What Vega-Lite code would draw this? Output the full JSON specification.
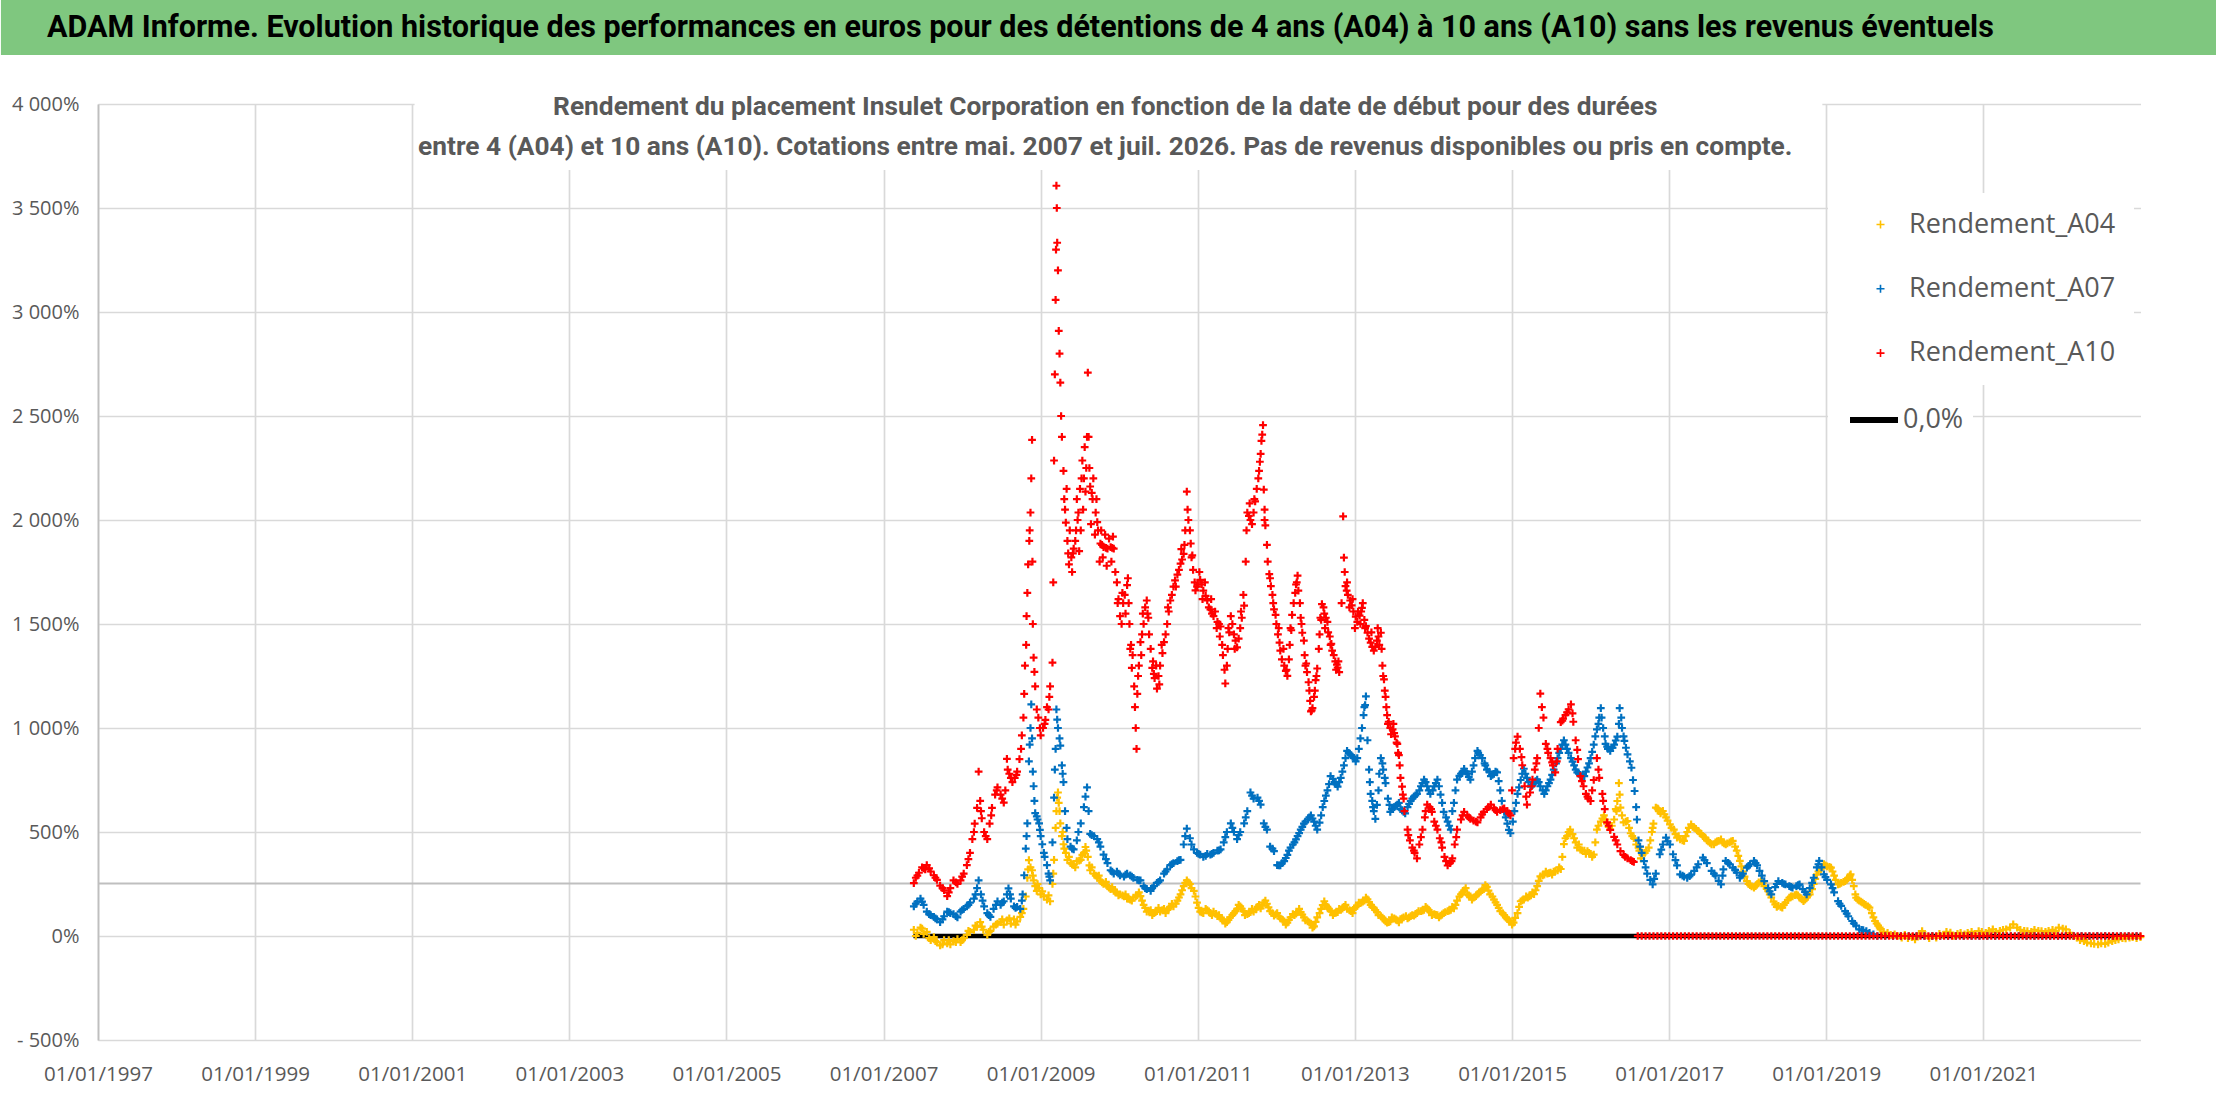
{
  "$schema": "https://vega.github.io/schema/vega-lite/v6.json",
  "background": "white",
  "padding": {"left": 0, "top": 0, "right": 0, "bottom": 12},
  "columns": 1,
  "align": "none",
  "spacing": 38,
  "datasets": {
    "a04": [
      {"t":2007.385,"v":30},{"t":2007.43,"v":15},{"t":2007.47,"v":40},{"t":2007.51,"v":10},{"t":2007.55,"v":20},{"t":2007.6,"v":-20},{"t":2007.64,"v":-5},{"t":2007.68,"v":-30},{"t":2007.72,"v":-45},{"t":2007.77,"v":-20},{"t":2007.81,"v":-35},{"t":2007.85,"v":-40},{"t":2007.89,"v":-25},{"t":2007.94,"v":-15},{"t":2007.98,"v":-30},{"t":2008.02,"v":-10},{"t":2008.06,"v":5},{"t":2008.1,"v":20},{"t":2008.15,"v":30},{"t":2008.19,"v":45},{"t":2008.23,"v":67},{"t":2008.27,"v":30},{"t":2008.32,"v":5},{"t":2008.36,"v":25},{"t":2008.4,"v":45},{"t":2008.45,"v":60},{"t":2008.49,"v":67},{"t":2008.53,"v":55},{"t":2008.57,"v":75},{"t":2008.62,"v":60},{"t":2008.66,"v":80},{"t":2008.7,"v":70},{"t":2008.74,"v":92},{"t":2008.78,"v":130},{"t":2008.81,"v":190},{"t":2008.83,"v":280},{"t":2008.85,"v":365},{"t":2008.87,"v":330},{"t":2008.89,"v":316},{"t":2008.91,"v":267},{"t":2008.93,"v":240},{"t":2008.95,"v":217},{"t":2008.98,"v":230},{"t":2009,"v":200},{"t":2009.04,"v":190},{"t":2009.08,"v":175},{"t":2009.12,"v":167},{"t":2009.15,"v":250},{"t":2009.17,"v":366},{"t":2009.19,"v":520},{"t":2009.21,"v":665},{"t":2009.22,"v":690},{"t":2009.24,"v":600},{"t":2009.25,"v":541},{"t":2009.27,"v":480},{"t":2009.29,"v":441},{"t":2009.32,"v":400},{"t":2009.34,"v":366},{"t":2009.38,"v":350},{"t":2009.42,"v":341},{"t":2009.46,"v":360},{"t":2009.51,"v":366},{"t":2009.55,"v":400},{"t":2009.57,"v":428},{"t":2009.6,"v":380},{"t":2009.63,"v":316},{"t":2009.68,"v":300},{"t":2009.72,"v":280},{"t":2009.76,"v":267},{"t":2009.8,"v":250},{"t":2009.85,"v":240},{"t":2009.89,"v":225},{"t":2009.93,"v":217},{"t":2009.97,"v":210},{"t":2010.01,"v":200},{"t":2010.06,"v":190},{"t":2010.1,"v":180},{"t":2010.14,"v":175},{"t":2010.18,"v":185},{"t":2010.23,"v":195},{"t":2010.27,"v":192},{"t":2010.31,"v":150},{"t":2010.35,"v":117},{"t":2010.4,"v":125},{"t":2010.44,"v":110},{"t":2010.48,"v":120},{"t":2010.52,"v":117},{"t":2010.57,"v":130},{"t":2010.61,"v":125},{"t":2010.65,"v":140},{"t":2010.69,"v":142},{"t":2010.74,"v":170},{"t":2010.78,"v":200},{"t":2010.82,"v":240},{"t":2010.86,"v":267},{"t":2010.9,"v":250},{"t":2010.95,"v":217},{"t":2010.99,"v":160},{"t":2011.03,"v":117},{"t":2011.07,"v":110},{"t":2011.12,"v":125},{"t":2011.16,"v":110},{"t":2011.2,"v":117},{"t":2011.25,"v":95},{"t":2011.29,"v":85},{"t":2011.33,"v":75},{"t":2011.37,"v":67},{"t":2011.41,"v":90},{"t":2011.46,"v":110},{"t":2011.5,"v":130},{"t":2011.54,"v":142},{"t":2011.58,"v":120},{"t":2011.63,"v":105},{"t":2011.67,"v":115},{"t":2011.71,"v":117},{"t":2011.76,"v":140},{"t":2011.8,"v":133},{"t":2011.84,"v":160},{"t":2011.88,"v":155},{"t":2011.92,"v":120},{"t":2011.97,"v":98},{"t":2012.01,"v":110},{"t":2012.05,"v":85},{"t":2012.1,"v":70},{"t":2012.14,"v":64},{"t":2012.18,"v":90},{"t":2012.23,"v":100},{"t":2012.27,"v":115},{"t":2012.31,"v":115},{"t":2012.35,"v":90},{"t":2012.4,"v":70},{"t":2012.44,"v":60},{"t":2012.48,"v":46},{"t":2012.52,"v":90},{"t":2012.57,"v":130},{"t":2012.61,"v":167},{"t":2012.65,"v":140},{"t":2012.69,"v":120},{"t":2012.74,"v":110},{"t":2012.78,"v":115},{"t":2012.82,"v":125},{"t":2012.86,"v":140},{"t":2012.9,"v":130},{"t":2012.95,"v":120},{"t":2012.99,"v":133},{"t":2013.03,"v":145},{"t":2013.08,"v":160},{"t":2013.12,"v":170},{"t":2013.16,"v":176},{"t":2013.2,"v":150},{"t":2013.24,"v":135},{"t":2013.28,"v":115},{"t":2013.33,"v":95},{"t":2013.37,"v":80},{"t":2013.41,"v":64},{"t":2013.45,"v":70},{"t":2013.5,"v":85},{"t":2013.54,"v":75},{"t":2013.58,"v":81},{"t":2013.62,"v":90},{"t":2013.67,"v":85},{"t":2013.71,"v":95},{"t":2013.75,"v":98},{"t":2013.79,"v":110},{"t":2013.84,"v":120},{"t":2013.88,"v":125},{"t":2013.92,"v":133},{"t":2013.96,"v":115},{"t":2014.01,"v":105},{"t":2014.05,"v":100},{"t":2014.09,"v":98},{"t":2014.13,"v":110},{"t":2014.18,"v":120},{"t":2014.22,"v":125},{"t":2014.26,"v":133},{"t":2014.3,"v":170},{"t":2014.35,"v":200},{"t":2014.39,"v":219},{"t":2014.43,"v":200},{"t":2014.47,"v":190},{"t":2014.51,"v":184},{"t":2014.56,"v":200},{"t":2014.6,"v":215},{"t":2014.64,"v":225},{"t":2014.68,"v":236},{"t":2014.72,"v":200},{"t":2014.77,"v":175},{"t":2014.81,"v":150},{"t":2014.85,"v":120},{"t":2014.9,"v":100},{"t":2014.94,"v":81},{"t":2014.98,"v":70},{"t":2015.02,"v":64},{"t":2015.07,"v":110},{"t":2015.11,"v":167},{"t":2015.15,"v":175},{"t":2015.2,"v":185},{"t":2015.24,"v":195},{"t":2015.28,"v":201},{"t":2015.32,"v":240},{"t":2015.36,"v":287},{"t":2015.41,"v":295},{"t":2015.45,"v":300},{"t":2015.49,"v":305},{"t":2015.53,"v":310},{"t":2015.58,"v":315},{"t":2015.62,"v":322},{"t":2015.66,"v":442},{"t":2015.7,"v":480},{"t":2015.74,"v":511},{"t":2015.79,"v":470},{"t":2015.83,"v":425},{"t":2015.87,"v":415},{"t":2015.92,"v":410},{"t":2015.96,"v":408},{"t":2016,"v":395},{"t":2016.04,"v":391},{"t":2016.08,"v":511},{"t":2016.13,"v":550},{"t":2016.17,"v":580},{"t":2016.21,"v":540},{"t":2016.25,"v":511},{"t":2016.3,"v":560},{"t":2016.34,"v":649},{"t":2016.36,"v":735},{"t":2016.38,"v":617},{"t":2016.42,"v":546},{"t":2016.47,"v":553},{"t":2016.51,"v":494},{"t":2016.55,"v":470},{"t":2016.61,"v":425},{"t":2016.64,"v":373},{"t":2016.69,"v":400},{"t":2016.74,"v":425},{"t":2016.76,"v":460},{"t":2016.8,"v":540},{"t":2016.83,"v":617},{"t":2016.85,"v":614},{"t":2016.89,"v":590},{"t":2016.92,"v":601},{"t":2016.96,"v":570},{"t":2017.01,"v":537},{"t":2017.06,"v":511},{"t":2017.1,"v":473},{"t":2017.14,"v":465},{"t":2017.19,"v":457},{"t":2017.23,"v":500},{"t":2017.28,"v":537},{"t":2017.32,"v":520},{"t":2017.37,"v":505},{"t":2017.41,"v":490},{"t":2017.46,"v":473},{"t":2017.5,"v":455},{"t":2017.54,"v":441},{"t":2017.59,"v":450},{"t":2017.63,"v":457},{"t":2017.68,"v":450},{"t":2017.72,"v":441},{"t":2017.77,"v":450},{"t":2017.81,"v":457},{"t":2017.86,"v":410},{"t":2017.9,"v":361},{"t":2017.94,"v":310},{"t":2017.99,"v":264},{"t":2018.03,"v":245},{"t":2018.08,"v":232},{"t":2018.12,"v":250},{"t":2018.17,"v":264},{"t":2018.21,"v":240},{"t":2018.26,"v":216},{"t":2018.3,"v":185},{"t":2018.35,"v":152},{"t":2018.39,"v":145},{"t":2018.44,"v":136},{"t":2018.48,"v":160},{"t":2018.53,"v":184},{"t":2018.57,"v":190},{"t":2018.62,"v":200},{"t":2018.66,"v":185},{"t":2018.71,"v":168},{"t":2018.75,"v":185},{"t":2018.79,"v":200},{"t":2018.84,"v":250},{"t":2018.88,"v":296},{"t":2018.93,"v":320},{"t":2018.97,"v":345},{"t":2019.01,"v":335},{"t":2019.06,"v":329},{"t":2019.1,"v":290},{"t":2019.15,"v":248},{"t":2019.19,"v":255},{"t":2019.24,"v":264},{"t":2019.28,"v":280},{"t":2019.31,"v":296},{"t":2019.35,"v":240},{"t":2019.38,"v":184},{"t":2019.42,"v":170},{"t":2019.46,"v":160},{"t":2019.5,"v":150},{"t":2019.55,"v":136},{"t":2019.58,"v":110},{"t":2019.62,"v":72},{"t":2019.66,"v":50},{"t":2019.69,"v":32},{"t":2019.73,"v":20},{"t":2019.78,"v":15},{"t":2019.82,"v":5},{"t":2019.87,"v":8},{"t":2019.91,"v":0},{"t":2019.96,"v":-8},{"t":2020,"v":5},{"t":2020.04,"v":-10},{"t":2020.09,"v":-5},{"t":2020.13,"v":-16},{"t":2020.18,"v":10},{"t":2020.22,"v":24},{"t":2020.26,"v":5},{"t":2020.31,"v":-10},{"t":2020.35,"v":0},{"t":2020.4,"v":-8},{"t":2020.44,"v":10},{"t":2020.49,"v":5},{"t":2020.53,"v":20},{"t":2020.58,"v":16},{"t":2020.62,"v":0},{"t":2020.67,"v":10},{"t":2020.71,"v":15},{"t":2020.76,"v":8},{"t":2020.8,"v":15},{"t":2020.85,"v":20},{"t":2020.89,"v":10},{"t":2020.94,"v":24},{"t":2020.98,"v":20},{"t":2021.03,"v":15},{"t":2021.07,"v":25},{"t":2021.12,"v":32},{"t":2021.16,"v":20},{"t":2021.21,"v":25},{"t":2021.25,"v":30},{"t":2021.29,"v":32},{"t":2021.34,"v":40},{"t":2021.38,"v":56},{"t":2021.43,"v":40},{"t":2021.47,"v":30},{"t":2021.52,"v":25},{"t":2021.56,"v":24},{"t":2021.61,"v":20},{"t":2021.65,"v":30},{"t":2021.7,"v":25},{"t":2021.74,"v":24},{"t":2021.79,"v":20},{"t":2021.83,"v":25},{"t":2021.88,"v":30},{"t":2021.92,"v":24},{"t":2021.96,"v":40},{"t":2022.01,"v":35},{"t":2022.05,"v":32},{"t":2022.1,"v":15},{"t":2022.14,"v":0},{"t":2022.19,"v":-8},{"t":2022.23,"v":-20},{"t":2022.28,"v":-25},{"t":2022.32,"v":-32},{"t":2022.37,"v":-35},{"t":2022.41,"v":-38},{"t":2022.46,"v":-40},{"t":2022.5,"v":-35},{"t":2022.55,"v":-38},{"t":2022.59,"v":-32},{"t":2022.64,"v":-25},{"t":2022.68,"v":-20},{"t":2022.72,"v":-16},{"t":2022.77,"v":-10},{"t":2022.81,"v":-12},{"t":2022.86,"v":-8},{"t":2022.9,"v":-5},{"t":2022.95,"v":-10},{"t":2023,"v":-5},
      {"t":2007.41,"v":0},{"t":2007.49,"v":35},{"t":2007.58,"v":-10},{"t":2007.66,"v":-25},{"t":2007.75,"v":-40},{"t":2007.83,"v":-20},{"t":2007.92,"v":-30},{"t":2008,"v":-20},{"t":2008.08,"v":25},{"t":2008.17,"v":50},{"t":2008.25,"v":45},{"t":2008.34,"v":20},{"t":2008.43,"v":55},{"t":2008.51,"v":80},{"t":2008.6,"v":85},{"t":2008.68,"v":55},{"t":2008.76,"v":110},{"t":2008.84,"v":320},{"t":2008.9,"v":290},{"t":2008.96,"v":250},{"t":2009.02,"v":215},{"t":2009.1,"v":195},{"t":2009.16,"v":300},{"t":2009.2,"v":600},{"t":2009.23,"v":640},{"t":2009.28,"v":500},{"t":2009.36,"v":380},{"t":2009.44,"v":330},{"t":2009.53,"v":390},{"t":2009.58,"v":410},{"t":2009.65,"v":330},{"t":2009.74,"v":290},{"t":2009.83,"v":260},{"t":2009.91,"v":235},{"t":2009.99,"v":195},{"t":2010.08,"v":200},{"t":2010.16,"v":170},{"t":2010.25,"v":210},{"t":2010.33,"v":135},{"t":2010.42,"v":100},{"t":2010.5,"v":135},{"t":2010.59,"v":110},{"t":2010.67,"v":155},{"t":2010.76,"v":185},{"t":2010.84,"v":255},{"t":2010.92,"v":230},{"t":2011.01,"v":135},{"t":2011.1,"v":130},{"t":2011.18,"v":100},{"t":2011.27,"v":100},{"t":2011.35,"v":60},{"t":2011.44,"v":100},{"t":2011.52,"v":150},{"t":2011.6,"v":100},{"t":2011.69,"v":130},{"t":2011.78,"v":150},{"t":2011.86,"v":170},{"t":2011.95,"v":110},{"t":2012.03,"v":95},{"t":2012.12,"v":55},{"t":2012.21,"v":105},{"t":2012.29,"v":130},{"t":2012.37,"v":75},{"t":2012.46,"v":40},{"t":2012.55,"v":110},{"t":2012.63,"v":150},{"t":2012.72,"v":100},{"t":2012.8,"v":130},{"t":2012.88,"v":150},{"t":2012.97,"v":110},{"t":2013.05,"v":160},{"t":2013.14,"v":185},{"t":2013.22,"v":140},{"t":2013.3,"v":100},{"t":2013.39,"v":70},{"t":2013.47,"v":90},{"t":2013.56,"v":65},{"t":2013.65,"v":95},{"t":2013.73,"v":100},{"t":2013.81,"v":120},{"t":2013.9,"v":140},{"t":2013.98,"v":100},{"t":2014.07,"v":90},{"t":2014.15,"v":115},{"t":2014.24,"v":140},{"t":2014.33,"v":190},{"t":2014.41,"v":230},{"t":2014.49,"v":175},{"t":2014.58,"v":210},{"t":2014.66,"v":245},{"t":2014.75,"v":190},{"t":2014.83,"v":135},{"t":2014.92,"v":90},{"t":2015,"v":55},{"t":2015.09,"v":140},{"t":2015.18,"v":190},{"t":2015.26,"v":210},{"t":2015.34,"v":265},{"t":2015.43,"v":310},{"t":2015.51,"v":295},{"t":2015.6,"v":330},{"t":2015.68,"v":470},{"t":2015.77,"v":490},{"t":2015.85,"v":440},{"t":2015.94,"v":395},{"t":2016.02,"v":380},{"t":2016.1,"v":530},{"t":2016.19,"v":560},{"t":2016.27,"v":530},{"t":2016.32,"v":610},{"t":2016.4,"v":580},{"t":2016.49,"v":520},{"t":2016.58,"v":440},{"t":2016.66,"v":390},{"t":2016.78,"v":500},{"t":2016.87,"v":600},{"t":2016.94,"v":585},{"t":2017.03,"v":520},{"t":2017.12,"v":480},{"t":2017.21,"v":480},{"t":2017.3,"v":525},{"t":2017.39,"v":495},{"t":2017.48,"v":460},{"t":2017.57,"v":440},{"t":2017.66,"v":465},{"t":2017.74,"v":445},{"t":2017.84,"v":430},{"t":2017.92,"v":335},{"t":2018.01,"v":250},{"t":2018.1,"v":240},{"t":2018.19,"v":255},{"t":2018.28,"v":200},{"t":2018.37,"v":140},{"t":2018.46,"v":150},{"t":2018.55,"v":190},{"t":2018.64,"v":195},{"t":2018.73,"v":175},{"t":2018.82,"v":225},{"t":2018.9,"v":310},{"t":2018.99,"v":340},{"t":2019.08,"v":310},{"t":2019.17,"v":250},{"t":2019.26,"v":270},{"t":2019.33,"v":270},{"t":2019.4,"v":175},{"t":2019.48,"v":155},{"t":2019.6,"v":90},{"t":2019.68,"v":40},
      {"t":2009.3,"v":420},{"t":2009.4,"v":345},{"t":2009.49,"v":362},{"t":2009.62,"v":340},{"t":2009.7,"v":290},{"t":2009.78,"v":258},{"t":2009.87,"v":232},{"t":2009.95,"v":213},{"t":2010.04,"v":195},{"t":2010.12,"v":178},{"t":2010.21,"v":190},{"t":2010.29,"v":170},{"t":2010.38,"v":120},{"t":2010.46,"v":115},{"t":2010.55,"v":125},{"t":2010.63,"v":132},{"t":2010.72,"v":156},{"t":2010.8,"v":220},{"t":2010.88,"v":258},{"t":2010.97,"v":190},{"t":2011.05,"v":113},{"t":2011.14,"v":118},{"t":2011.23,"v":106},{"t":2011.31,"v":80},{"t":2011.39,"v":78},{"t":2011.48,"v":120},{"t":2011.56,"v":131},{"t":2011.65,"v":110},{"t":2011.74,"v":128},{"t":2011.82,"v":146},{"t":2011.9,"v":138},{"t":2011.99,"v":104},{"t":2012.08,"v":78},{"t":2012.16,"v":77},{"t":2012.25,"v":108},{"t":2012.33,"v":103},{"t":2012.42,"v":65},{"t":2012.5,"v":68},{"t":2012.59,"v":148},{"t":2012.67,"v":130},{"t":2012.76,"v":112},{"t":2012.84,"v":132},{"t":2012.93,"v":125},{"t":2013.01,"v":139},{"t":2013.1,"v":165},{"t":2013.18,"v":163},{"t":2013.26,"v":125},{"t":2013.35,"v":88},{"t":2013.43,"v":67},{"t":2013.52,"v":80},{"t":2013.6,"v":85},{"t":2013.69,"v":90},{"t":2013.77,"v":104},{"t":2013.86,"v":122},{"t":2013.94,"v":124},{"t":2014.03,"v":102},{"t":2014.11,"v":104},{"t":2014.2,"v":122},{"t":2014.28,"v":150},{"t":2014.37,"v":210},{"t":2014.45,"v":195},{"t":2014.54,"v":192},{"t":2014.62,"v":220},{"t":2014.7,"v":218},{"t":2014.79,"v":162},{"t":2014.88,"v":110},{"t":2014.96,"v":75},{"t":2015.04,"v":87},{"t":2015.13,"v":171},{"t":2015.22,"v":190},{"t":2015.3,"v":220},{"t":2015.39,"v":291},{"t":2015.47,"v":302},{"t":2015.55,"v":312},
      {"t":2015.64,"v":380},{"t":2015.72,"v":500},{"t":2015.81,"v":450},{"t":2015.89,"v":412},{"t":2015.98,"v":400},{"t":2016.06,"v":450},{"t":2016.15,"v":565},{"t":2016.23,"v":525},{"t":2016.33,"v":600},{"t":2016.37,"v":680},{"t":2016.45,"v":550},{"t":2016.53,"v":480},{"t":2016.62,"v":410},{"t":2016.71,"v":410},{"t":2016.79,"v":520},{"t":2016.86,"v":610},{"t":2016.98,"v":555},{"t":2017.08,"v":490},{"t":2017.17,"v":460},{"t":2017.25,"v":520},{"t":2017.34,"v":515},{"t":2017.43,"v":480},{"t":2017.52,"v":448},{"t":2017.61,"v":455},{"t":2017.7,"v":445},{"t":2017.79,"v":455},{"t":2017.88,"v":385},{"t":2017.96,"v":285},{"t":2018.05,"v":238},{"t":2018.14,"v":258},{"t":2018.24,"v":228},{"t":2018.33,"v":165},{"t":2018.42,"v":140},{"t":2018.51,"v":172},{"t":2018.6,"v":197},{"t":2018.69,"v":176},{"t":2018.77,"v":195},{"t":2018.86,"v":275},{"t":2018.95,"v":333},{"t":2019.04,"v":332},{"t":2019.12,"v":270},{"t":2019.22,"v":260},{"t":2019.3,"v":290},{"t":2019.37,"v":200},{"t":2019.44,"v":165},{"t":2019.53,"v":142},{"t":2019.64,"v":60}
    ],
    "a07": [
      {"t":2007.385,"v":142},{"t":2007.43,"v":165},{"t":2007.47,"v":180},{"t":2007.51,"v":150},{"t":2007.55,"v":117},{"t":2007.6,"v":100},{"t":2007.64,"v":92},{"t":2007.68,"v":80},{"t":2007.72,"v":67},{"t":2007.77,"v":95},{"t":2007.81,"v":117},{"t":2007.85,"v":110},{"t":2007.89,"v":105},{"t":2007.94,"v":90},{"t":2007.98,"v":117},{"t":2008.02,"v":130},{"t":2008.06,"v":142},{"t":2008.1,"v":160},{"t":2008.15,"v":180},{"t":2008.19,"v":230},{"t":2008.21,"v":267},{"t":2008.24,"v":200},{"t":2008.28,"v":142},{"t":2008.32,"v":110},{"t":2008.36,"v":92},{"t":2008.4,"v":130},{"t":2008.45,"v":167},{"t":2008.49,"v":150},{"t":2008.53,"v":167},{"t":2008.57,"v":200},{"t":2008.59,"v":229},{"t":2008.62,"v":180},{"t":2008.66,"v":142},{"t":2008.7,"v":140},{"t":2008.74,"v":130},{"t":2008.77,"v":200},{"t":2008.79,"v":292},{"t":2008.81,"v":420},{"t":2008.83,"v":541},{"t":2008.85,"v":840},{"t":2008.87,"v":1000},{"t":2008.88,"v":1114},{"t":2008.89,"v":950},{"t":2008.9,"v":790},{"t":2008.92,"v":650},{"t":2008.93,"v":591},{"t":2008.96,"v":560},{"t":2008.98,"v":541},{"t":2009,"v":480},{"t":2009.02,"v":441},{"t":2009.05,"v":380},{"t":2009.08,"v":341},{"t":2009.1,"v":300},{"t":2009.12,"v":267},{"t":2009.15,"v":450},{"t":2009.17,"v":665},{"t":2009.19,"v":900},{"t":2009.2,"v":1089},{"t":2009.22,"v":1000},{"t":2009.25,"v":915},{"t":2009.27,"v":820},{"t":2009.29,"v":740},{"t":2009.31,"v":600},{"t":2009.34,"v":466},{"t":2009.38,"v":430},{"t":2009.42,"v":416},{"t":2009.46,"v":460},{"t":2009.51,"v":541},{"t":2009.55,"v":620},{"t":2009.59,"v":715},{"t":2009.61,"v":600},{"t":2009.63,"v":491},{"t":2009.68,"v":480},{"t":2009.72,"v":466},{"t":2009.76,"v":430},{"t":2009.8,"v":391},{"t":2009.85,"v":350},{"t":2009.89,"v":316},{"t":2009.93,"v":300},{"t":2009.97,"v":310},{"t":2010.01,"v":292},{"t":2010.06,"v":285},{"t":2010.1,"v":300},{"t":2010.14,"v":292},{"t":2010.18,"v":280},{"t":2010.23,"v":270},{"t":2010.27,"v":267},{"t":2010.31,"v":240},{"t":2010.35,"v":225},{"t":2010.4,"v":217},{"t":2010.44,"v":240},{"t":2010.48,"v":255},{"t":2010.52,"v":267},{"t":2010.57,"v":300},{"t":2010.61,"v":320},{"t":2010.65,"v":341},{"t":2010.69,"v":350},{"t":2010.74,"v":360},{"t":2010.78,"v":366},{"t":2010.82,"v":440},{"t":2010.86,"v":516},{"t":2010.9,"v":470},{"t":2010.95,"v":416},{"t":2010.99,"v":400},{"t":2011.03,"v":391},{"t":2011.07,"v":380},{"t":2011.12,"v":395},{"t":2011.16,"v":391},{"t":2011.2,"v":400},{"t":2011.25,"v":410},{"t":2011.29,"v":416},{"t":2011.33,"v":450},{"t":2011.37,"v":500},{"t":2011.42,"v":541},{"t":2011.46,"v":500},{"t":2011.5,"v":466},{"t":2011.54,"v":500},{"t":2011.59,"v":541},{"t":2011.63,"v":600},{"t":2011.67,"v":690},{"t":2011.71,"v":660},{"t":2011.76,"v":665},{"t":2011.8,"v":632},{"t":2011.84,"v":541},{"t":2011.88,"v":511},{"t":2011.92,"v":430},{"t":2011.97,"v":408},{"t":2012.01,"v":341},{"t":2012.05,"v":339},{"t":2012.1,"v":360},{"t":2012.14,"v":390},{"t":2012.18,"v":425},{"t":2012.23,"v":450},{"t":2012.27,"v":480},{"t":2012.31,"v":511},{"t":2012.35,"v":540},{"t":2012.4,"v":560},{"t":2012.44,"v":580},{"t":2012.48,"v":550},{"t":2012.52,"v":511},{"t":2012.57,"v":580},{"t":2012.61,"v":649},{"t":2012.65,"v":700},{"t":2012.69,"v":769},{"t":2012.74,"v":740},{"t":2012.78,"v":718},{"t":2012.82,"v":760},{"t":2012.86,"v":820},{"t":2012.9,"v":890},{"t":2012.95,"v":870},{"t":2012.99,"v":855},{"t":2013.03,"v":855},{"t":2013.07,"v":950},{"t":2013.11,"v":1062},{"t":2013.14,"v":1152},{"t":2013.16,"v":941},{"t":2013.18,"v":800},{"t":2013.2,"v":683},{"t":2013.23,"v":620},{"t":2013.26,"v":563},{"t":2013.3,"v":700},{"t":2013.33,"v":855},{"t":2013.36,"v":800},{"t":2013.39,"v":735},{"t":2013.42,"v":660},{"t":2013.45,"v":597},{"t":2013.5,"v":620},{"t":2013.54,"v":632},{"t":2013.58,"v":610},{"t":2013.62,"v":597},{"t":2013.67,"v":620},{"t":2013.71,"v":649},{"t":2013.75,"v":670},{"t":2013.79,"v":683},{"t":2013.84,"v":720},{"t":2013.88,"v":752},{"t":2013.92,"v":720},{"t":2013.96,"v":683},{"t":2014.01,"v":720},{"t":2014.05,"v":752},{"t":2014.09,"v":680},{"t":2014.13,"v":597},{"t":2014.18,"v":550},{"t":2014.22,"v":511},{"t":2014.26,"v":640},{"t":2014.3,"v":752},{"t":2014.35,"v":780},{"t":2014.39,"v":804},{"t":2014.43,"v":780},{"t":2014.47,"v":752},{"t":2014.51,"v":820},{"t":2014.56,"v":890},{"t":2014.59,"v":870},{"t":2014.62,"v":855},{"t":2014.68,"v":800},{"t":2014.73,"v":769},{"t":2014.77,"v":780},{"t":2014.81,"v":787},{"t":2014.85,"v":700},{"t":2014.9,"v":597},{"t":2014.94,"v":540},{"t":2014.98,"v":494},{"t":2015.03,"v":600},{"t":2015.07,"v":683},{"t":2015.11,"v":750},{"t":2015.15,"v":804},{"t":2015.19,"v":760},{"t":2015.24,"v":718},{"t":2015.28,"v":735},{"t":2015.32,"v":752},{"t":2015.36,"v":720},{"t":2015.41,"v":683},{"t":2015.45,"v":720},{"t":2015.49,"v":752},{"t":2015.53,"v":800},{"t":2015.58,"v":855},{"t":2015.62,"v":900},{"t":2015.66,"v":941},{"t":2015.7,"v":900},{"t":2015.75,"v":855},{"t":2015.79,"v":820},{"t":2015.83,"v":787},{"t":2015.87,"v":775},{"t":2015.92,"v":769},{"t":2015.96,"v":810},{"t":2016,"v":855},{"t":2016.04,"v":920},{"t":2016.08,"v":993},{"t":2016.11,"v":1050},{"t":2016.13,"v":1096},{"t":2016.16,"v":1000},{"t":2016.19,"v":924},{"t":2016.22,"v":900},{"t":2016.25,"v":890},{"t":2016.3,"v":920},{"t":2016.34,"v":959},{"t":2016.37,"v":1096},{"t":2016.4,"v":1000},{"t":2016.43,"v":938},{"t":2016.47,"v":873},{"t":2016.52,"v":809},{"t":2016.56,"v":697},{"t":2016.59,"v":560},{"t":2016.61,"v":460},{"t":2016.65,"v":400},{"t":2016.68,"v":360},{"t":2016.72,"v":300},{"t":2016.76,"v":270},{"t":2016.79,"v":248},{"t":2016.83,"v":300},{"t":2016.88,"v":393},{"t":2016.92,"v":440},{"t":2016.96,"v":473},{"t":2017.01,"v":440},{"t":2017.05,"v":393},{"t":2017.1,"v":340},{"t":2017.14,"v":296},{"t":2017.19,"v":285},{"t":2017.23,"v":280},{"t":2017.28,"v":295},{"t":2017.32,"v":313},{"t":2017.37,"v":345},{"t":2017.43,"v":377},{"t":2017.48,"v":350},{"t":2017.54,"v":313},{"t":2017.59,"v":290},{"t":2017.63,"v":265},{"t":2017.66,"v":248},{"t":2017.69,"v":320},{"t":2017.72,"v":361},{"t":2017.77,"v":345},{"t":2017.81,"v":329},{"t":2017.86,"v":305},{"t":2017.9,"v":280},{"t":2017.94,"v":300},{"t":2017.99,"v":329},{"t":2018.03,"v":345},{"t":2018.08,"v":361},{"t":2018.12,"v":340},{"t":2018.15,"v":313},{"t":2018.21,"v":264},{"t":2018.26,"v":230},{"t":2018.3,"v":200},{"t":2018.35,"v":235},{"t":2018.39,"v":264},{"t":2018.44,"v":255},{"t":2018.48,"v":248},{"t":2018.53,"v":240},{"t":2018.57,"v":232},{"t":2018.62,"v":240},{"t":2018.66,"v":248},{"t":2018.7,"v":225},{"t":2018.75,"v":200},{"t":2018.79,"v":230},{"t":2018.84,"v":280},{"t":2018.88,"v":330},{"t":2018.91,"v":361},{"t":2018.94,"v":330},{"t":2018.97,"v":296},{"t":2019.01,"v":270},{"t":2019.06,"v":248},{"t":2019.1,"v":210},{"t":2019.15,"v":168},{"t":2019.19,"v":145},{"t":2019.24,"v":120},{"t":2019.28,"v":95},{"t":2019.33,"v":72},{"t":2019.38,"v":50},{"t":2019.42,"v":32},{"t":2019.47,"v":28},{"t":2019.51,"v":24},{"t":2019.55,"v":15},{"t":2019.6,"v":8},
      {"t":2019.65,"v":0},{"t":2019.75,"v":0},{"t":2019.85,"v":0},{"t":2019.95,"v":0},{"t":2020.05,"v":0},{"t":2020.15,"v":0},{"t":2020.25,"v":0},{"t":2020.35,"v":0},{"t":2020.45,"v":0},{"t":2020.55,"v":0},{"t":2020.65,"v":0},{"t":2020.75,"v":0},{"t":2020.85,"v":0},{"t":2020.95,"v":0},{"t":2021.05,"v":0},{"t":2021.15,"v":0},{"t":2021.25,"v":0},{"t":2021.35,"v":0},{"t":2021.45,"v":0},{"t":2021.55,"v":0},{"t":2021.65,"v":0},{"t":2021.75,"v":0},{"t":2021.85,"v":0},{"t":2021.95,"v":0},{"t":2022.05,"v":0},{"t":2022.15,"v":0},{"t":2022.25,"v":0},{"t":2022.35,"v":0},{"t":2022.45,"v":0},{"t":2022.55,"v":0},{"t":2022.65,"v":0},{"t":2022.75,"v":0},{"t":2022.85,"v":0},{"t":2022.95,"v":0},
      {"t":2007.41,"v":155},{"t":2007.49,"v":165},{"t":2007.58,"v":105},{"t":2007.66,"v":85},{"t":2007.75,"v":80},{"t":2007.83,"v":115},{"t":2007.92,"v":95},{"t":2008,"v":125},{"t":2008.08,"v":150},{"t":2008.17,"v":200},{"t":2008.26,"v":170},{"t":2008.34,"v":100},{"t":2008.43,"v":150},{"t":2008.51,"v":160},{"t":2008.61,"v":200},{"t":2008.68,"v":135},{"t":2008.76,"v":170},{"t":2008.82,"v":480},{"t":2008.86,"v":920},{"t":2008.91,"v":720},{"t":2008.95,"v":575},{"t":2008.99,"v":510},{"t":2009.04,"v":400},{"t":2009.11,"v":285},{"t":2009.18,"v":800},{"t":2009.21,"v":1040},{"t":2009.24,"v":950},{"t":2009.28,"v":780},{"t":2009.33,"v":520},{"t":2009.4,"v":420},{"t":2009.48,"v":500},{"t":2009.57,"v":670},{"t":2009.65,"v":485},{"t":2009.74,"v":450},{"t":2009.83,"v":370},{"t":2009.91,"v":310},{"t":2009.99,"v":300},{"t":2010.08,"v":295},{"t":2010.16,"v":285},{"t":2010.25,"v":268},{"t":2010.33,"v":230},{"t":2010.42,"v":230},{"t":2010.5,"v":260},{"t":2010.59,"v":310},{"t":2010.67,"v":345},{"t":2010.76,"v":365},{"t":2010.84,"v":480},{"t":2010.92,"v":440},{"t":2011.01,"v":395},{"t":2011.1,"v":385},{"t":2011.18,"v":395},{"t":2011.27,"v":412},{"t":2011.35,"v":475},{"t":2011.44,"v":520},{"t":2011.52,"v":485},{"t":2011.61,"v":570},{"t":2011.69,"v":675},{"t":2011.78,"v":650},{"t":2011.86,"v":525},{"t":2011.95,"v":420},{"t":2012.03,"v":340},{"t":2012.12,"v":375},{"t":2012.21,"v":440},{"t":2012.29,"v":495},{"t":2012.37,"v":550},{"t":2012.46,"v":565},{"t":2012.55,"v":545},{"t":2012.63,"v":675},{"t":2012.72,"v":755},{"t":2012.8,"v":740},{"t":2012.88,"v":855},{"t":2012.97,"v":862},{"t":2013.05,"v":900},{"t":2013.12,"v":1100},{"t":2013.22,"v":650},{"t":2013.28,"v":630},{"t":2013.35,"v":830},{"t":2013.44,"v":630},{"t":2013.52,"v":625},{"t":2013.6,"v":605},{"t":2013.69,"v":635},{"t":2013.77,"v":676},{"t":2013.86,"v":735},{"t":2013.94,"v":700},{"t":2014.03,"v":735},{"t":2014.11,"v":640},{"t":2014.2,"v":530},{"t":2014.28,"v":700},{"t":2014.37,"v":790},{"t":2014.45,"v":765},{"t":2014.53,"v":855},{"t":2014.65,"v":830},{"t":2014.75,"v":775},{"t":2014.83,"v":745},{"t":2014.92,"v":570},{"t":2015.01,"v":550},{"t":2015.09,"v":715},{"t":2015.17,"v":780},{"t":2015.26,"v":725},{"t":2015.34,"v":740},{"t":2015.43,"v":700},{"t":2015.51,"v":775},{"t":2015.6,"v":880},{"t":2015.68,"v":920},{"t":2015.77,"v":838},{"t":2015.85,"v":780},{"t":2015.94,"v":790},{"t":2016.02,"v":885},{"t":2016.1,"v":1020},{"t":2016.18,"v":960},{"t":2016.27,"v":905},{"t":2016.36,"v":1020},{"t":2016.45,"v":905},{"t":2016.54,"v":750},{"t":2016.63,"v":430},{"t":2016.7,"v":330},{"t":2016.81,"v":275},{"t":2016.9,"v":415},{"t":2016.98,"v":455},{"t":2017.08,"v":365},{"t":2017.17,"v":290},{"t":2017.26,"v":288},{"t":2017.35,"v":330},{"t":2017.45,"v":365},{"t":2017.57,"v":300},{"t":2017.68,"v":290},{"t":2017.75,"v":352},{"t":2017.84,"v":318},{"t":2017.92,"v":290},{"t":2018.01,"v":337},{"t":2018.1,"v":350},{"t":2018.18,"v":290},{"t":2018.28,"v":215},{"t":2018.37,"v":250},{"t":2018.46,"v":250},{"t":2018.55,"v":236},{"t":2018.64,"v":244},{"t":2018.73,"v":212},{"t":2018.82,"v":255},{"t":2018.9,"v":345},{"t":2018.99,"v":283},{"t":2019.08,"v":230},{"t":2019.17,"v":155},{"t":2019.26,"v":108},{"t":2019.35,"v":60},{"t":2019.45,"v":30},
      {"t":2012.07,"v":350},{"t":2012.16,"v":410},{"t":2012.25,"v":465},{"t":2012.33,"v":525},{"t":2012.42,"v":570},{"t":2012.5,"v":530},{"t":2012.59,"v":620},{"t":2012.67,"v":730},{"t":2012.76,"v":730},{"t":2012.84,"v":790},{"t":2012.92,"v":880},{"t":2013.01,"v":840},{"t":2013.09,"v":1000},{"t":2013.13,"v":1110},{"t":2013.19,"v":740},{"t":2013.24,"v":600},{"t":2013.31,"v":780},{"t":2013.38,"v":760},{"t":2013.47,"v":610},{"t":2013.56,"v":640},{"t":2013.64,"v":590},{"t":2013.73,"v":660},{"t":2013.82,"v":700},{"t":2013.9,"v":740},{"t":2013.99,"v":700},{"t":2014.07,"v":720},{"t":2014.16,"v":570},{"t":2014.24,"v":600},{"t":2014.33,"v":770},{"t":2014.41,"v":790},{"t":2014.49,"v":790},{"t":2014.57,"v":880},{"t":2014.66,"v":820},{"t":2014.71,"v":790},{"t":2014.79,"v":790},{"t":2014.87,"v":650},{"t":2014.96,"v":510},{"t":2015.05,"v":640},{"t":2015.13,"v":780},{"t":2015.21,"v":740},{"t":2015.3,"v":745},{"t":2015.39,"v":700},{"t":2015.47,"v":735},{"t":2015.56,"v":830},{"t":2015.64,"v":920},{"t":2015.72,"v":880},{"t":2015.81,"v":800},{"t":2015.9,"v":770},{"t":2015.98,"v":830},{"t":2016.06,"v":960},{"t":2016.14,"v":1050},{"t":2016.21,"v":910},{"t":2016.28,"v":905},{"t":2016.32,"v":940},{"t":2016.39,"v":1050},{"t":2016.42,"v":960},{"t":2016.5,"v":840},{"t":2016.58,"v":620}
    ],
    "a10": [
      {"t":2007.385,"v":254},{"t":2007.41,"v":280},{"t":2007.45,"v":304},{"t":2007.49,"v":330},{"t":2007.53,"v":320},{"t":2007.55,"v":341},{"t":2007.6,"v":310},{"t":2007.64,"v":292},{"t":2007.68,"v":270},{"t":2007.72,"v":242},{"t":2007.77,"v":220},{"t":2007.81,"v":192},{"t":2007.85,"v":230},{"t":2007.89,"v":267},{"t":2007.94,"v":250},{"t":2007.98,"v":267},{"t":2008.02,"v":300},{"t":2008.06,"v":341},{"t":2008.1,"v":400},{"t":2008.13,"v":466},{"t":2008.16,"v":540},{"t":2008.19,"v":616},{"t":2008.21,"v":790},{"t":2008.23,"v":650},{"t":2008.25,"v":566},{"t":2008.28,"v":500},{"t":2008.32,"v":466},{"t":2008.35,"v":540},{"t":2008.38,"v":616},{"t":2008.42,"v":680},{"t":2008.45,"v":715},{"t":2008.49,"v":680},{"t":2008.53,"v":641},{"t":2008.55,"v":700},{"t":2008.57,"v":852},{"t":2008.6,"v":780},{"t":2008.64,"v":740},{"t":2008.67,"v":760},{"t":2008.7,"v":790},{"t":2008.73,"v":850},{"t":2008.76,"v":965},{"t":2008.78,"v":1050},{"t":2008.79,"v":1164},{"t":2008.8,"v":1300},{"t":2008.82,"v":1538},{"t":2008.83,"v":1650},{"t":2008.84,"v":1787},{"t":2008.855,"v":1900},{"t":2008.87,"v":2036},{"t":2008.88,"v":2200},{"t":2008.89,"v":2385},{"t":2008.895,"v":1800},{"t":2008.9,"v":1500},{"t":2008.91,"v":1338},{"t":2008.93,"v":1200},{"t":2008.95,"v":1089},{"t":2008.97,"v":1050},{"t":2009,"v":965},{"t":2009.03,"v":1000},{"t":2009.06,"v":1039},{"t":2009.08,"v":1100},{"t":2009.1,"v":1089},{"t":2009.12,"v":1200},{"t":2009.15,"v":1314},{"t":2009.16,"v":1700},{"t":2009.17,"v":2286},{"t":2009.18,"v":2700},{"t":2009.19,"v":3058},{"t":2009.195,"v":3300},{"t":2009.2,"v":3607},{"t":2009.205,"v":3500},{"t":2009.21,"v":3333},{"t":2009.22,"v":3200},{"t":2009.23,"v":2909},{"t":2009.24,"v":2800},{"t":2009.25,"v":2660},{"t":2009.27,"v":2400},{"t":2009.29,"v":2236},{"t":2009.3,"v":2100},{"t":2009.32,"v":1987},{"t":2009.34,"v":1900},{"t":2009.36,"v":1787},{"t":2009.39,"v":1820},{"t":2009.42,"v":1862},{"t":2009.45,"v":1950},{"t":2009.48,"v":2036},{"t":2009.5,"v":2150},{"t":2009.53,"v":2286},{"t":2009.55,"v":2200},{"t":2009.57,"v":2136},{"t":2009.59,"v":2400},{"t":2009.6,"v":2709},{"t":2009.61,"v":2400},{"t":2009.63,"v":2161},{"t":2009.66,"v":2100},{"t":2009.7,"v":2036},{"t":2009.73,"v":1950},{"t":2009.76,"v":1887},{"t":2009.8,"v":1870},{"t":2009.85,"v":1862},{"t":2009.89,"v":1870},{"t":2009.93,"v":1862},{"t":2009.97,"v":1700},{"t":2010.01,"v":1538},{"t":2010.05,"v":1600},{"t":2010.1,"v":1687},{"t":2010.13,"v":1500},{"t":2010.16,"v":1289},{"t":2010.19,"v":1200},{"t":2010.21,"v":1000},{"t":2010.22,"v":900},{"t":2010.23,"v":1164},{"t":2010.25,"v":1300},{"t":2010.27,"v":1413},{"t":2010.31,"v":1500},{"t":2010.35,"v":1613},{"t":2010.38,"v":1450},{"t":2010.42,"v":1289},{"t":2010.45,"v":1240},{"t":2010.48,"v":1189},{"t":2010.52,"v":1300},{"t":2010.57,"v":1413},{"t":2010.61,"v":1500},{"t":2010.65,"v":1613},{"t":2010.69,"v":1680},{"t":2010.74,"v":1737},{"t":2010.78,"v":1790},{"t":2010.82,"v":1837},{"t":2010.84,"v":1950},{"t":2010.86,"v":2136},{"t":2010.88,"v":2000},{"t":2010.91,"v":1887},{"t":2010.94,"v":1760},{"t":2010.97,"v":1662},{"t":2011,"v":1690},{"t":2011.03,"v":1712},{"t":2011.07,"v":1660},{"t":2011.12,"v":1613},{"t":2011.16,"v":1570},{"t":2011.2,"v":1538},{"t":2011.25,"v":1510},{"t":2011.29,"v":1488},{"t":2011.32,"v":1350},{"t":2011.35,"v":1214},{"t":2011.38,"v":1380},{"t":2011.42,"v":1538},{"t":2011.46,"v":1450},{"t":2011.5,"v":1388},{"t":2011.54,"v":1480},{"t":2011.59,"v":1588},{"t":2011.61,"v":1800},{"t":2011.63,"v":2036},{"t":2011.67,"v":2000},{"t":2011.71,"v":2036},{"t":2011.75,"v":2150},{"t":2011.78,"v":2236},{"t":2011.8,"v":2318},{"t":2011.82,"v":2410},{"t":2011.83,"v":2456},{"t":2011.84,"v":2146},{"t":2011.86,"v":1974},{"t":2011.89,"v":1800},{"t":2011.93,"v":1682},{"t":2011.96,"v":1600},{"t":2011.99,"v":1544},{"t":2012.02,"v":1450},{"t":2012.05,"v":1372},{"t":2012.1,"v":1300},{"t":2012.14,"v":1251},{"t":2012.17,"v":1400},{"t":2012.2,"v":1544},{"t":2012.24,"v":1650},{"t":2012.27,"v":1733},{"t":2012.3,"v":1600},{"t":2012.33,"v":1458},{"t":2012.36,"v":1350},{"t":2012.39,"v":1269},{"t":2012.42,"v":1180},{"t":2012.44,"v":1080},{"t":2012.46,"v":1096},{"t":2012.49,"v":1180},{"t":2012.52,"v":1286},{"t":2012.55,"v":1450},{"t":2012.58,"v":1596},{"t":2012.61,"v":1550},{"t":2012.65,"v":1510},{"t":2012.68,"v":1440},{"t":2012.71,"v":1372},{"t":2012.75,"v":1320},{"t":2012.78,"v":1290},{"t":2012.8,"v":1269},{"t":2012.83,"v":1600},{"t":2012.85,"v":2017},{"t":2012.86,"v":1819},{"t":2012.88,"v":1682},{"t":2012.91,"v":1640},{"t":2012.94,"v":1613},{"t":2012.98,"v":1560},{"t":2013.03,"v":1510},{"t":2013.06,"v":1540},{"t":2013.09,"v":1578},{"t":2013.12,"v":1520},{"t":2013.16,"v":1458},{"t":2013.2,"v":1410},{"t":2013.24,"v":1372},{"t":2013.28,"v":1420},{"t":2013.33,"v":1458},{"t":2013.35,"v":1300},{"t":2013.37,"v":1234},{"t":2013.39,"v":1150},{"t":2013.41,"v":1062},{"t":2013.45,"v":1000},{"t":2013.48,"v":993},{"t":2013.51,"v":960},{"t":2013.54,"v":924},{"t":2013.57,"v":820},{"t":2013.6,"v":718},{"t":2013.63,"v":600},{"t":2013.67,"v":511},{"t":2013.7,"v":460},{"t":2013.73,"v":425},{"t":2013.76,"v":400},{"t":2013.79,"v":373},{"t":2013.82,"v":440},{"t":2013.86,"v":511},{"t":2013.89,"v":570},{"t":2013.92,"v":632},{"t":2013.95,"v":620},{"t":2013.98,"v":597},{"t":2014.01,"v":550},{"t":2014.05,"v":511},{"t":2014.08,"v":470},{"t":2014.11,"v":425},{"t":2014.14,"v":380},{"t":2014.18,"v":339},{"t":2014.21,"v":350},{"t":2014.24,"v":373},{"t":2014.27,"v":440},{"t":2014.3,"v":511},{"t":2014.35,"v":560},{"t":2014.39,"v":597},{"t":2014.43,"v":580},{"t":2014.47,"v":563},{"t":2014.51,"v":555},{"t":2014.56,"v":546},{"t":2014.6,"v":570},{"t":2014.64,"v":597},{"t":2014.68,"v":610},{"t":2014.73,"v":632},{"t":2014.77,"v":615},{"t":2014.81,"v":597},{"t":2014.85,"v":605},{"t":2014.9,"v":614},{"t":2014.94,"v":600},{"t":2014.98,"v":580},{"t":2015,"v":700},{"t":2015.02,"v":855},{"t":2015.05,"v":930},{"t":2015.07,"v":959},{"t":2015.1,"v":900},{"t":2015.13,"v":821},{"t":2015.16,"v":720},{"t":2015.19,"v":632},{"t":2015.23,"v":690},{"t":2015.26,"v":752},{"t":2015.29,"v":800},{"t":2015.32,"v":855},{"t":2015.34,"v":1000},{"t":2015.36,"v":1165},{"t":2015.4,"v":1050},{"t":2015.43,"v":924},{"t":2015.46,"v":880},{"t":2015.49,"v":855},{"t":2015.52,"v":820},{"t":2015.55,"v":787},{"t":2015.58,"v":900},{"t":2015.62,"v":1028},{"t":2015.65,"v":1045},{"t":2015.68,"v":1062},{"t":2015.72,"v":1090},{"t":2015.75,"v":1114},{"t":2015.78,"v":1030},{"t":2015.81,"v":941},{"t":2015.84,"v":850},{"t":2015.87,"v":769},{"t":2015.91,"v":720},{"t":2015.94,"v":683},{"t":2015.97,"v":660},{"t":2016,"v":649},{"t":2016.04,"v":750},{"t":2016.08,"v":855},{"t":2016.11,"v":760},{"t":2016.15,"v":683},{"t":2016.18,"v":610},{"t":2016.21,"v":546},{"t":2016.25,"v":510},{"t":2016.3,"v":477},{"t":2016.34,"v":440},{"t":2016.38,"v":408},{"t":2016.42,"v":390},{"t":2016.47,"v":373},{"t":2016.51,"v":365},{"t":2016.55,"v":356},
      {"t":2007.43,"v":290},{"t":2007.51,"v":325},{"t":2007.58,"v":325},{"t":2007.66,"v":280},{"t":2007.75,"v":230},{"t":2007.83,"v":210},{"t":2007.92,"v":258},{"t":2008,"v":285},{"t":2008.08,"v":370},{"t":2008.15,"v":500},{"t":2008.24,"v":600},{"t":2008.3,"v":480},{"t":2008.37,"v":580},{"t":2008.44,"v":700},{"t":2008.51,"v":660},{"t":2008.58,"v":800},{"t":2008.62,"v":760},{"t":2008.69,"v":775},{"t":2008.75,"v":900},{"t":2008.815,"v":1400},{"t":2008.86,"v":1950},{"t":2008.92,"v":1270},{"t":2008.99,"v":1000},{"t":2009.05,"v":1020},{"t":2009.11,"v":1150},{"t":2009.26,"v":2500},{"t":2009.31,"v":2050},{"t":2009.35,"v":1840},{"t":2009.41,"v":1840},{"t":2009.47,"v":2000},{"t":2009.52,"v":2200},{"t":2009.58,"v":2250},{"t":2009.65,"v":2130},{"t":2009.72,"v":1990},{"t":2009.78,"v":1880},{"t":2009.83,"v":1866},{"t":2009.91,"v":1866},{"t":2009.99,"v":1620},{"t":2010.07,"v":1640},{"t":2010.15,"v":1400},{"t":2010.29,"v":1450},{"t":2010.37,"v":1530},{"t":2010.44,"v":1260},{"t":2010.5,"v":1250},{"t":2010.55,"v":1360},{"t":2010.63,"v":1560},{"t":2010.71,"v":1710},{"t":2010.8,"v":1810},{"t":2010.92,"v":1820},{"t":2010.99,"v":1680},{"t":2011.05,"v":1690},{"t":2011.1,"v":1635},{"t":2011.18,"v":1550},{"t":2011.27,"v":1500},{"t":2011.4,"v":1460},{"t":2011.48,"v":1420},{"t":2011.56,"v":1530},{"t":2011.65,"v":2020},{"t":2011.73,"v":2090},{"t":2011.85,"v":2050},{"t":2011.91,"v":1740},{"t":2011.97,"v":1570},{"t":2012.04,"v":1410},{"t":2012.12,"v":1275},{"t":2012.19,"v":1470},{"t":2012.25,"v":1690},{"t":2012.31,"v":1530},{"t":2012.38,"v":1310},{"t":2012.45,"v":1085},{"t":2012.5,"v":1230},{"t":2012.57,"v":1520},{"t":2012.63,"v":1530},{"t":2012.7,"v":1405},{"t":2012.77,"v":1305},{"t":2012.895,"v":1660},{"t":2012.96,"v":1590},{"t":2013.01,"v":1535},{"t":2013.08,"v":1560},{"t":2013.14,"v":1490},{"t":2013.22,"v":1390},{"t":2013.3,"v":1440},{"t":2013.43,"v":1030},{"t":2013.5,"v":975},{"t":2013.56,"v":870},{"t":2013.62,"v":660},{"t":2013.68,"v":485},{"t":2013.75,"v":410},{"t":2013.84,"v":475},{"t":2013.9,"v":600},{"t":2013.97,"v":610},{"t":2014.03,"v":530},{"t":2014.1,"v":450},{"t":2014.16,"v":360},{"t":2014.23,"v":360},{"t":2014.29,"v":475},{"t":2014.37,"v":580},{"t":2014.45,"v":570},{"t":2014.54,"v":550},{"t":2014.62,"v":585},{"t":2014.7,"v":620},{"t":2014.79,"v":605},{"t":2014.88,"v":610},{"t":2014.96,"v":590},{"t":2015.04,"v":900},{"t":2015.12,"v":860},{"t":2015.18,"v":670},{"t":2015.25,"v":720},{"t":2015.31,"v":830},{"t":2015.38,"v":1100},{"t":2015.45,"v":900},{"t":2015.51,"v":835},{"t":2015.57,"v":840},{"t":2015.64,"v":1035},{"t":2015.7,"v":1075},{"t":2015.77,"v":1070},{"t":2015.83,"v":895},{"t":2015.89,"v":745},{"t":2015.96,"v":670},{"t":2016.02,"v":700},{"t":2016.1,"v":800},{"t":2016.16,"v":650},{"t":2016.23,"v":530},{"t":2016.32,"v":460},{"t":2016.44,"v":380},{"t":2016.53,"v":360},
      {"t":2009.33,"v":2150},{"t":2009.37,"v":1950},{"t":2009.4,"v":1750},{"t":2009.44,"v":1900},{"t":2009.46,"v":2100},{"t":2009.49,"v":1850},{"t":2009.51,"v":1950},{"t":2009.54,"v":2050},{"t":2009.56,"v":2350},{"t":2009.62,"v":2250},{"t":2009.64,"v":1980},{"t":2009.67,"v":2200},{"t":2009.69,"v":1930},{"t":2009.71,"v":2100},{"t":2009.75,"v":1800},{"t":2009.77,"v":1950},{"t":2009.79,"v":1820},{"t":2009.82,"v":1930},{"t":2009.84,"v":1780},{"t":2009.87,"v":1910},{"t":2009.9,"v":1800},{"t":2009.92,"v":1920},{"t":2009.95,"v":1750},{"t":2009.98,"v":1600},{"t":2010.03,"v":1500},{"t":2010.04,"v":1650},{"t":2010.08,"v":1550},{"t":2010.11,"v":1720},{"t":2010.12,"v":1600},{"t":2010.14,"v":1380},{"t":2010.17,"v":1350},{"t":2010.2,"v":1100},{"t":2010.24,"v":1250},{"t":2010.28,"v":1350},{"t":2010.3,"v":1550},{"t":2010.33,"v":1580},{"t":2010.36,"v":1550},{"t":2010.4,"v":1380},{"t":2010.43,"v":1320},{"t":2010.47,"v":1300},{"t":2010.51,"v":1210},{"t":2010.54,"v":1400},{"t":2010.59,"v":1450},{"t":2010.62,"v":1580},{"t":2010.67,"v":1640},{"t":2010.72,"v":1680},{"t":2010.76,"v":1760},{"t":2010.79,"v":1860},{"t":2010.83,"v":1880},{"t":2010.87,"v":2050},{"t":2010.9,"v":1950},{"t":2010.93,"v":1830},{"t":2010.96,"v":1700},{"t":2011.02,"v":1750},{"t":2011.06,"v":1620},{"t":2011.09,"v":1700},{"t":2011.14,"v":1580},{"t":2011.17,"v":1620},{"t":2011.22,"v":1560},{"t":2011.24,"v":1480},{"t":2011.28,"v":1440},{"t":2011.31,"v":1400},{"t":2011.34,"v":1280},{"t":2011.37,"v":1300},{"t":2011.39,"v":1480},{"t":2011.44,"v":1500},{"t":2011.47,"v":1380},{"t":2011.52,"v":1430},{"t":2011.55,"v":1560},{"t":2011.58,"v":1640},{"t":2011.62,"v":1950},{"t":2011.66,"v":2080},{"t":2011.69,"v":1980},{"t":2011.72,"v":2100},{"t":2011.77,"v":2200},{"t":2011.79,"v":2280},{"t":2011.81,"v":2380},{"t":2011.85,"v":2000},{"t":2011.88,"v":1880},{"t":2011.92,"v":1720},{"t":2011.95,"v":1640},{"t":2012,"v":1500},{"t":2012.03,"v":1480},{"t":2012.07,"v":1330},{"t":2012.09,"v":1380},{"t":2012.13,"v":1280},{"t":2012.16,"v":1330},{"t":2012.18,"v":1480},{"t":2012.22,"v":1600},{"t":2012.26,"v":1700},{"t":2012.28,"v":1660},{"t":2012.32,"v":1500},{"t":2012.35,"v":1420},{"t":2012.37,"v":1300},{"t":2012.41,"v":1220},{"t":2012.43,"v":1130},{"t":2012.48,"v":1150},{"t":2012.51,"v":1250},{"t":2012.54,"v":1380},{"t":2012.56,"v":1530},{"t":2012.6,"v":1580},{"t":2012.62,"v":1480},{"t":2012.66,"v":1460},{"t":2012.69,"v":1400},{"t":2012.73,"v":1350},{"t":2012.76,"v":1280},{"t":2012.79,"v":1320},{"t":2012.87,"v":1750},{"t":2012.9,"v":1700},{"t":2012.93,"v":1580},{"t":2012.97,"v":1620},{"t":2013,"v":1480},{"t":2013.04,"v":1560},{"t":2013.07,"v":1500},{"t":2013.1,"v":1600},{"t":2013.13,"v":1480},{"t":2013.18,"v":1430},{"t":2013.21,"v":1460},{"t":2013.26,"v":1390},{"t":2013.29,"v":1480},{"t":2013.31,"v":1400},{"t":2013.34,"v":1380},{"t":2013.36,"v":1250},{"t":2013.38,"v":1180},{"t":2013.4,"v":1100},{"t":2013.42,"v":1020},{"t":2013.46,"v":970},{"t":2013.49,"v":1020},{"t":2013.53,"v":930},{"t":2013.55,"v":880},{"t":2013.58,"v":760},{"t":2013.61,"v":680},
      {"t":2016.6,"v":0},{"t":2016.65,"v":0},{"t":2016.7,"v":0},{"t":2016.75,"v":0},{"t":2016.8,"v":0},{"t":2016.85,"v":0},{"t":2016.9,"v":0},{"t":2016.95,"v":0},
      {"t":2017,"v":0},{"t":2017.05,"v":0},{"t":2017.1,"v":0},{"t":2017.15,"v":0},{"t":2017.2,"v":0},{"t":2017.25,"v":0},{"t":2017.3,"v":0},{"t":2017.35,"v":0},{"t":2017.4,"v":0},{"t":2017.45,"v":0},{"t":2017.5,"v":0},{"t":2017.55,"v":0},{"t":2017.6,"v":0},{"t":2017.65,"v":0},{"t":2017.7,"v":0},{"t":2017.75,"v":0},{"t":2017.8,"v":0},{"t":2017.85,"v":0},{"t":2017.9,"v":0},{"t":2017.95,"v":0},
      {"t":2018,"v":0},{"t":2018.05,"v":0},{"t":2018.1,"v":0},{"t":2018.15,"v":0},{"t":2018.2,"v":0},{"t":2018.25,"v":0},{"t":2018.3,"v":0},{"t":2018.35,"v":0},{"t":2018.4,"v":0},{"t":2018.45,"v":0},{"t":2018.5,"v":0},{"t":2018.55,"v":0},{"t":2018.6,"v":0},{"t":2018.65,"v":0},{"t":2018.7,"v":0},{"t":2018.75,"v":0},{"t":2018.8,"v":0},{"t":2018.85,"v":0},{"t":2018.9,"v":0},{"t":2018.95,"v":0},
      {"t":2019,"v":0},{"t":2019.05,"v":0},{"t":2019.1,"v":0},{"t":2019.15,"v":0},{"t":2019.2,"v":0},{"t":2019.25,"v":0},{"t":2019.3,"v":0},{"t":2019.35,"v":0},{"t":2019.4,"v":0},{"t":2019.45,"v":0},{"t":2019.5,"v":0},{"t":2019.55,"v":0},{"t":2019.6,"v":0},{"t":2019.65,"v":0},{"t":2019.7,"v":0},{"t":2019.75,"v":0},{"t":2019.8,"v":0},{"t":2019.85,"v":0},{"t":2019.9,"v":0},{"t":2019.95,"v":0},
      {"t":2020,"v":0},{"t":2020.05,"v":0},{"t":2020.1,"v":0},{"t":2020.15,"v":0},{"t":2020.2,"v":0},{"t":2020.25,"v":0},{"t":2020.3,"v":0},{"t":2020.35,"v":0},{"t":2020.4,"v":0},{"t":2020.45,"v":0},{"t":2020.5,"v":0},{"t":2020.55,"v":0},{"t":2020.6,"v":0},{"t":2020.65,"v":0},{"t":2020.7,"v":0},{"t":2020.75,"v":0},{"t":2020.8,"v":0},{"t":2020.85,"v":0},{"t":2020.9,"v":0},{"t":2020.95,"v":0},
      {"t":2021,"v":0},{"t":2021.05,"v":0},{"t":2021.1,"v":0},{"t":2021.15,"v":0},{"t":2021.2,"v":0},{"t":2021.25,"v":0},{"t":2021.3,"v":0},{"t":2021.35,"v":0},{"t":2021.4,"v":0},{"t":2021.45,"v":0},{"t":2021.5,"v":0},{"t":2021.55,"v":0},{"t":2021.6,"v":0},{"t":2021.65,"v":0},{"t":2021.7,"v":0},{"t":2021.75,"v":0},{"t":2021.8,"v":0},{"t":2021.85,"v":0},{"t":2021.9,"v":0},{"t":2021.95,"v":0},
      {"t":2022,"v":0},{"t":2022.05,"v":0},{"t":2022.1,"v":0},{"t":2022.15,"v":0},{"t":2022.2,"v":0},{"t":2022.25,"v":0},{"t":2022.3,"v":0},{"t":2022.35,"v":0},{"t":2022.4,"v":0},{"t":2022.45,"v":0},{"t":2022.5,"v":0},{"t":2022.55,"v":0},{"t":2022.6,"v":0},{"t":2022.65,"v":0},{"t":2022.7,"v":0},{"t":2022.75,"v":0},{"t":2022.8,"v":0},{"t":2022.85,"v":0},{"t":2022.9,"v":0},{"t":2022.95,"v":0},
      {"t":2023,"v":0}
    ],
    "zero": [{"t":2007.38,"v":0},{"t":2023,"v":0}]
  },
  "concat": [
    {
      "width": 2119,
      "height": 55,
      "view": {"stroke": null},
      "layer": [
        {
          "data": {"values": [{}]},
          "mark": {"type": "rect", "color": "#7FC77F"},
          "encoding": {
            "x": {"datum": -0.0458, "type": "quantitative", "scale": {"domain": [0, 1]}, "axis": null},
            "x2": {"datum": 1},
            "y": {"datum": 0, "type": "quantitative", "scale": {"domain": [0, 1]}, "axis": null},
            "y2": {"datum": 1}
          }
        },
        {
          "data": {"values": [{"label": "ADAM Informe. Evolution historique des performances en euros pour des détentions de 4 ans (A04) à 10 ans (A10) sans les revenus éventuels"}]},
          "mark": {"type": "text", "font": "Roboto", "fontSize": 30.5, "fontWeight": "bold", "color": "#000000", "align": "center", "baseline": "middle"},
          "encoding": {
            "text": {"field": "label"},
            "x": {"datum": 0.4353, "type": "quantitative"},
            "y": {"datum": 0.5, "type": "quantitative"}
          }
        }
      ]
    },
    {
      "width": 2042.5,
      "height": 936,
      "view": {"stroke": null},
      "title": {
        "text": [
          "Rendement du placement Insulet Corporation en fonction de la date de début pour des durées",
          "entre 4 (A04) et 10 ans (A10). Cotations entre mai. 2007 et juil. 2026. Pas de revenus disponibles ou pris en compte."
        ],
        "font": "Roboto",
        "fontSize": 26.3,
        "fontWeight": "bold",
        "color": "#595959",
        "lineHeight": 40,
        "anchor": "middle",
        "frame": "group",
        "offset": -66,
        "dx": -14
      },
      "layer": [
        {
          "data": {"values": [{}]},
          "mark": {"type": "rect", "color": "white"},
          "encoding": {
            "x": {"datum": 2001.03, "type": "quantitative"},
            "x2": {"datum": 2018.95},
            "y": {"datum": 4010, "type": "quantitative"},
            "y2": {"datum": 3683}
          }
        },
        {
          "data": {"values": [{}]},
          "mark": {"type": "rule", "color": "#BFBFBF", "strokeWidth": 2},
          "encoding": {
            "x": {"datum": 1997, "type": "quantitative"},
            "x2": {"datum": 2023},
            "y": {"datum": 253, "type": "quantitative"}
          }
        },
        {
          "data": {"name": "zero"},
          "mark": {"type": "line", "strokeWidth": 4.5},
          "encoding": {
            "x": {"field": "t", "type": "quantitative"},
            "y": {"field": "v", "type": "quantitative"},
            "stroke": {
              "datum": "0,0%",
              "type": "nominal",
              "scale": {"domain": ["0,0%"], "range": ["#000000"]},
              "legend": {
                "title": null,
                "orient": "none",
                "legendX": 1730,
                "legendY": 383.2,
                "fillColor": "white",
                "padding": 9.8,
                "symbolType": "stroke",
                "symbolSize": 2304,
                "symbolStrokeWidth": 6,
                "symbolOffset": 9.2,
                "labelOffset": 2,
                "labelLimit": 600,
                "labelFont": "Open Sans",
                "labelFontSize": 27,
                "labelColor": "#595959",
                "labelExpr": "datum.label + '\u00a0\u00a0\u00a0\u00a0\u00a0\u00a0\u00a0\u00a0\u00a0\u00a0\u00a0\u00a0\u00a0\u00a0\u00a0\u00a0\u00a0\u00a0\u00a0\u00a0\u00a0\u00a0\u00a0\u00a0'"
              }
            }
          }
        },
        {
          "data": {"name": "a04"},
          "mark": {"type": "point", "shape": "M-1,0H1M0,-1V1", "filled": false, "size": 60, "strokeWidth": 2.2, "opacity": 1},
          "encoding": {
            "x": {
              "field": "t",
              "type": "quantitative",
              "scale": {"domain": [1997, 2023], "nice": false, "zero": false},
              "axis": {
                "title": null,
                "values": [1997, 1999, 2001, 2003, 2005, 2007, 2009, 2011, 2013, 2015, 2017, 2019, 2021],
                "labelExpr": "'01/01/' + datum.value",
                "grid": true,
                "gridColor": "#D9D9D9",
                "gridWidth": 1.7,
                "ticks": false,
                "domain": false,
                "labelPadding": 24,
                "labelFlush": false,
                "labelOverlap": false,
                "labelFont": "Open Sans",
                "labelFontSize": 20.5,
                "labelColor": "#595959"
              }
            },
            "y": {
              "field": "v",
              "type": "quantitative",
              "scale": {"domain": [-500, 4000], "nice": false, "zero": false},
              "axis": {
                "title": null,
                "values": [-500, 0, 500, 1000, 1500, 2000, 2500, 3000, 3500, 4000],
                "labelExpr": "(datum.value < 0 ? '- ' : '') + replace(format(abs(datum.value), ','), ',', ' ') + '%'",
                "grid": true,
                "gridColor": "#D9D9D9",
                "gridWidth": 1.7,
                "ticks": false,
                "domain": true,
                "domainColor": "#BFBFBF",
                "domainWidth": 1.7,
                "labelPadding": 19,
                "minExtent": 97,
                "labelOverlap": false,
                "labelFont": "Open Sans",
                "labelFontSize": 20,
                "labelColor": "#595959"
              }
            },
            "color": {
              "datum": "Rendement_A04",
              "type": "nominal",
              "scale": {
                "domain": ["Rendement_A04", "Rendement_A07", "Rendement_A10"],
                "range": ["#FFC000", "#0070C0", "#FF0000"]
              },
              "legend": {
                "title": null,
                "orient": "none",
                "legendX": 1730,
                "legendY": 193,
                "fillColor": "white",
                "padding": 18,
                "symbolType": "M-1,0H1M0,-1V1",
                "symbolSize": 64,
                "symbolStrokeWidth": 1.6,
                "symbolOffset": 21,
                "labelOffset": 15,
                "rowPadding": 36.3,
                "labelLimit": 600,
                "labelFont": "Open Sans",
                "labelFontSize": 27,
                "labelColor": "#595959",
                "labelExpr": "datum.label + '\u00a0\u00a0\u00a0'"
              }
            }
          }
        },
        {
          "data": {"name": "a07"},
          "mark": {"type": "point", "shape": "M-1,0H1M0,-1V1", "filled": false, "size": 60, "strokeWidth": 2.2, "opacity": 1},
          "encoding": {
            "x": {"field": "t", "type": "quantitative"},
            "y": {"field": "v", "type": "quantitative"},
            "color": {"datum": "Rendement_A07", "type": "nominal"}
          }
        },
        {
          "data": {"name": "a10"},
          "mark": {"type": "point", "shape": "M-1,0H1M0,-1V1", "filled": false, "size": 60, "strokeWidth": 2.2, "opacity": 1},
          "encoding": {
            "x": {"field": "t", "type": "quantitative"},
            "y": {"field": "v", "type": "quantitative"},
            "color": {"datum": "Rendement_A10", "type": "nominal"}
          }
        }
      ]
    }
  ]
}
